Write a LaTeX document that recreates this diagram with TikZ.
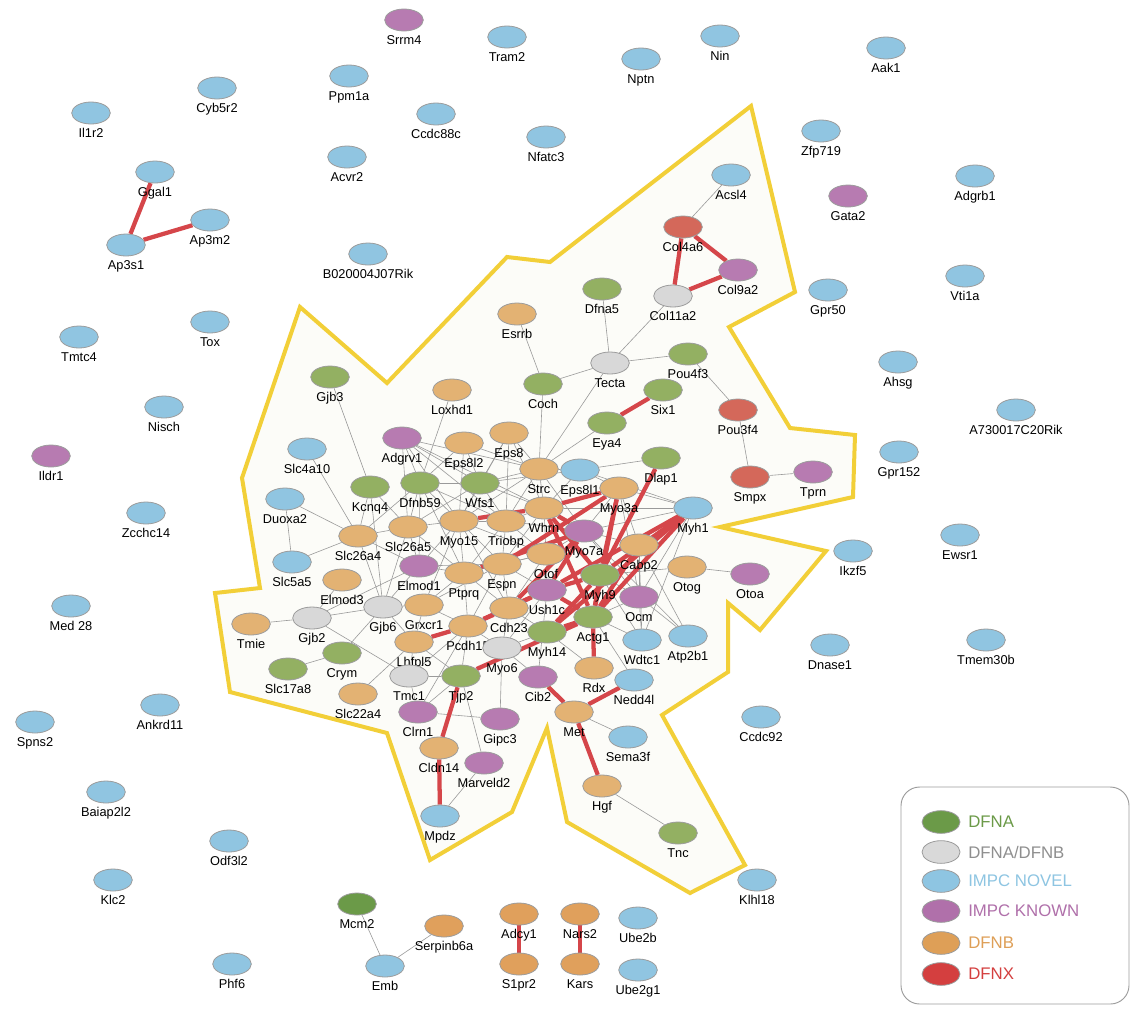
\documentclass[tikz,border=0pt]{standalone}
\usepackage{fontspec}
\setmainfont{Liberation Sans}
\usetikzlibrary{shapes.geometric}
\pgfdeclarelayer{bg}
\pgfdeclarelayer{edges}
\pgfsetlayers{bg,edges,main}
\definecolor{cA}{HTML}{93B062}
\definecolor{cAd}{HTML}{6B9A48}
\definecolor{cG}{HTML}{D8D8D8}
\definecolor{cN}{HTML}{90C5E1}
\definecolor{cK}{HTML}{B77BB1}
\definecolor{cB}{HTML}{E3B273}
\definecolor{cBd}{HTML}{E0A05C}
\definecolor{cX}{HTML}{D4685A}
\definecolor{nodeborder}{HTML}{9C9C9C}
\definecolor{edgegray}{HTML}{9A9A9A}
\definecolor{edgered}{HTML}{D5464A}
\definecolor{polyline}{HTML}{F2CF38}
\definecolor{polyfill}{HTML}{FCFCF8}
\definecolor{legA}{HTML}{6B9A48}
\definecolor{legG}{HTML}{8F8F8F}
\definecolor{legGf}{HTML}{D9D9D9}
\definecolor{legN}{HTML}{8EC5E2}
\definecolor{legK}{HTML}{B070AA}
\definecolor{legB}{HTML}{DE9F57}
\definecolor{legX}{HTML}{D43F3F}
\newcommand{\lblfont}{\fontsize{9.6}{11}\selectfont}
\newcommand{\legfont}{\fontsize{12.6}{14}\selectfont}
\tikzset{
  gnode/.style={ellipse, draw=nodeborder, line width=0.6pt, minimum width=29pt, minimum height=16.5pt, inner sep=0pt},
  gA/.style={gnode, fill=cA},
  gAd/.style={gnode, fill=cAd},
  gG/.style={gnode, fill=cG},
  gN/.style={gnode, fill=cN},
  gK/.style={gnode, fill=cK},
  gB/.style={gnode, fill=cB},
  gBd/.style={gnode, fill=cBd},
  gX/.style={gnode, fill=cX},
  lbl/.style={font=\lblfont, anchor=base, inner sep=0pt, text=black},
  ge/.style={draw=edgegray, line width=0.45pt},
  re/.style={draw=edgered, line width=3.2pt},
  legtxt/.style={font=\legfont, anchor=west, inner sep=0pt},
}
\newcommand{\gn}[4]{\node[#1] (#2) at (#3) {}; \node[lbl] (#2l) at ([yshift=-18.5pt]#2.center) {#4};}
\begin{document}
\begin{tikzpicture}[x=0.75pt,y=-0.75pt]
\path[use as bounding box] (0,0) rectangle (1131,1008);
\begin{pgfonlayer}{bg}
\fill[white] (0,0) rectangle (1131,1008);
\filldraw[fill=polyfill, draw=polyline, line width=3pt, line join=miter]
 (751,106) -- (795,292) -- (729,327) -- (790,428) -- (855,435) -- (853,497) -- (720,527) -- (826,551) -- (760,630) -- (728,603) -- (728,672) -- (662,715) -- (745,865) -- (690,893) -- (567,822) -- (547,728) -- (512,812) -- (430,860) -- (387,733) -- (230,692) -- (215,593) -- (260,588) -- (242,478) -- (300,307) -- (387,383) -- (507,257) -- (550,262) -- cycle;
\end{pgfonlayer}
% outer nodes
\gn{gK}{Srrm4}{404,20}{Srrm4}
\gn{gN}{Tram2}{507,37}{Tram2}
\gn{gN}{Nin}{720,36}{Nin}
\gn{gN}{Nptn}{641,59}{Nptn}
\gn{gN}{Aak1}{886,48}{Aak1}
\gn{gN}{Cyb5r2}{217,88}{Cyb5r2}
\gn{gN}{Ppm1a}{349,76}{Ppm1a}
\gn{gN}{Il1r2}{91,113}{Il1r2}
\gn{gN}{Ccdc88c}{436,114}{Ccdc88c}
\gn{gN}{Nfatc3}{546,137}{Nfatc3}
\gn{gN}{Zfp719}{821,131}{Zfp719}
\gn{gN}{Acvr2}{347,157}{Acvr2}
\gn{gN}{Ggal1}{155,172}{Ggal1}
\gn{gN}{Adgrb1}{975,176}{Adgrb1}
\gn{gK}{Gata2}{848,196}{Gata2}
\gn{gN}{Ap3m2}{210,220}{Ap3m2}
\gn{gN}{Ap3s1}{126,245}{Ap3s1}
\gn{gN}{B020004J07Rik}{368,254}{B020004J07Rik}
\gn{gN}{Vti1a}{965,276}{Vti1a}
\gn{gN}{Gpr50}{828,290}{Gpr50}
\gn{gN}{Tox}{210,322}{Tox}
\gn{gN}{Tmtc4}{79,337}{Tmtc4}
\gn{gN}{Ahsg}{898,362}{Ahsg}
\gn{gN}{Nisch}{164,407}{Nisch}
\gn{gN}{A730017C20Rik}{1016,410}{A730017C20Rik}
\gn{gN}{Gpr152}{899,452}{Gpr152}
\gn{gK}{Ildr1}{51,456}{Ildr1}
\gn{gN}{Zcchc14}{146,513}{Zcchc14}
\gn{gN}{Ewsr1}{960,535}{Ewsr1}
\gn{gN}{Ikzf5}{853,551}{Ikzf5}
\gn{gN}{Med28}{71,606}{Med 28}
\gn{gN}{Tmem30b}{986,640}{Tmem30b}
\gn{gN}{Dnase1}{830,645}{Dnase1}
\gn{gN}{Ankrd11}{160,705}{Ankrd11}
\gn{gN}{Ccdc92}{761,717}{Ccdc92}
\gn{gN}{Spns2}{35,722}{Spns2}
\gn{gN}{Baiap2l2}{106,792}{Baiap2l2}
\gn{gN}{Odf3l2}{229,841}{Odf3l2}
\gn{gN}{Klc2}{113,880}{Klc2}
\gn{gN}{Klhl18}{757,880}{Klhl18}
\gn{gAd}{Mcm2}{357,904}{Mcm2}
\gn{gBd}{Serpinb6a}{444,926}{Serpinb6a}
\gn{gBd}{Adcy1}{519,914}{Adcy1}
\gn{gBd}{Nars2}{580,914}{Nars2}
\gn{gN}{Ube2b}{638,918}{Ube2b}
\gn{gN}{Emb}{385,966}{Emb}
\gn{gN}{Phf6}{232,964}{Phf6}
\gn{gBd}{S1pr2}{519,964}{S1pr2}
\gn{gBd}{Kars}{580,964}{Kars}
\gn{gN}{Ube2g1}{638,970}{Ube2g1}
% inner nodes
\gn{gN}{Acsl4}{731,175}{Acsl4}
\gn{gX}{Col4a6}{683,227}{Col4a6}
\gn{gK}{Col9a2}{738,270}{Col9a2}
\gn{gG}{Col11a2}{673,296}{Col11a2}
\gn{gA}{Dfna5}{602,289}{Dfna5}
\gn{gB}{Esrrb}{517,314}{Esrrb}
\gn{gG}{Tecta}{610,363}{Tecta}
\gn{gA}{Pou4f3}{688,354}{Pou4f3}
\gn{gA}{Coch}{543,384}{Coch}
\gn{gA}{Six1}{663,390}{Six1}
\gn{gX}{Pou3f4}{738,410}{Pou3f4}
\gn{gA}{Eya4}{607,423}{Eya4}
\gn{gA}{Gjb3}{330,377}{Gjb3}
\gn{gB}{Loxhd1}{452,390}{Loxhd1}
\gn{gK}{Adgrv1}{402,438}{Adgrv1}
\gn{gB}{Eps8l2}{464,443}{Eps8l2}
\gn{gB}{Eps8}{509,433}{Eps8}
\gn{gN}{Slc4a10}{307,449}{Slc4a10}
\gn{gB}{Strc}{539,469}{Strc}
\gn{gN}{Eps8l1}{580,470}{Eps8l1}
\gn{gA}{Dlap1}{661,458}{Dlap1}
\gn{gX}{Smpx}{750,477}{Smpx}
\gn{gK}{Tprn}{813,472}{Tprn}
\gn{gA}{Kcnq4}{370,487}{Kcnq4}
\gn{gA}{Dfnb59}{420,483}{Dfnb59}
\gn{gA}{Wfs1}{480,483}{Wfs1}
\gn{gB}{Myo3a}{619,488}{Myo3a}
\gn{gN}{Duoxa2}{285,499}{Duoxa2}
\gn{gB}{Whrn}{544,508}{Whrn}
\gn{gN}{Myh1}{693,508}{Myh1}
\gn{gB}{Slc26a4}{358,536}{Slc26a4}
\gn{gB}{Slc26a5}{408,527}{Slc26a5}
\gn{gB}{Myo15}{459,521}{Myo15}
\gn{gB}{Triobp}{506,521}{Triobp}
\gn{gK}{Myo7a}{584,531}{Myo7a}
\gn{gB}{Cabp2}{639,545}{Cabp2}
\gn{gN}{Slc5a5}{292,562}{Slc5a5}
\gn{gB}{Otof}{546,554}{Otof}
\gn{gB}{Espn}{502,564}{Espn}
\gn{gK}{Elmod1}{419,566}{Elmod1}
\gn{gB}{Ptprq}{464,573}{Ptprq}
\gn{gB}{Elmod3}{342,580}{Elmod3}
\gn{gB}{Otog}{687,567}{Otog}
\gn{gK}{Otoa}{750,574}{Otoa}
\gn{gA}{Myh9}{600,575}{Myh9}
\gn{gK}{Ush1c}{547,590}{Ush1c}
\gn{gK}{Ocm}{639,597}{Ocm}
\gn{gG}{Gjb2}{312,618}{Gjb2}
\gn{gG}{Gjb6}{383,607}{Gjb6}
\gn{gB}{Grxcr1}{424,605}{Grxcr1}
\gn{gB}{Cdh23}{509,608}{Cdh23}
\gn{gA}{Actg1}{593,617}{Actg1}
\gn{gB}{Tmie}{251,624}{Tmie}
\gn{gB}{Pcdh15}{468,626}{Pcdh15}
\gn{gA}{Myh14}{547,632}{Myh14}
\gn{gN}{Wdtc1}{642,640}{Wdtc1}
\gn{gN}{Atp2b1}{688,636}{Atp2b1}
\gn{gB}{Lhfpl5}{414,642}{Lhfpl5}
\gn{gA}{Crym}{342,653}{Crym}
\gn{gG}{Myo6}{502,648}{Myo6}
\gn{gA}{Slc17a8}{288,669}{Slc17a8}
\gn{gG}{Tmc1}{409,676}{Tmc1}
\gn{gA}{Tjp2}{461,676}{Tjp2}
\gn{gK}{Cib2}{538,677}{Cib2}
\gn{gB}{Rdx}{594,668}{Rdx}
\gn{gN}{Nedd4l}{634,680}{Nedd4l}
\gn{gB}{Slc22a4}{358,694}{Slc22a4}
\gn{gK}{Clrn1}{418,712}{Clrn1}
\gn{gK}{Gipc3}{500,719}{Gipc3}
\gn{gB}{Met}{574,712}{Met}
\gn{gB}{Cldn14}{439,748}{Cldn14}
\gn{gN}{Sema3f}{628,737}{Sema3f}
\gn{gK}{Marveld2}{484,763}{Marveld2}
\gn{gB}{Hgf}{602,786}{Hgf}
\gn{gN}{Mpdz}{440,816}{Mpdz}
\gn{gA}{Tnc}{678,833}{Tnc}
% edges
\begin{pgfonlayer}{edges}
\foreach \a/\b in {Acsl4/Col4a6, Col11a2/Tecta, Dfna5/Tecta, Tecta/Pou4f3, Tecta/Coch, Tecta/Strc, Esrrb/Coch, Coch/Strc, Pou4f3/Pou3f4, Pou3f4/Smpx, Smpx/Tprn, Eya4/Strc, Dlap1/Eps8l1, Gjb3/Kcnq4, Slc4a10/Slc26a4, Duoxa2/Slc26a4, Duoxa2/Slc5a5, Slc5a5/Slc26a4, Kcnq4/Slc26a4, Kcnq4/Slc26a5, Kcnq4/Gjb6, Slc26a4/Slc26a5, Slc26a4/Dfnb59, Slc26a4/Gjb6, Slc26a4/Elmod1, Loxhd1/Dfnb59, Adgrv1/Dfnb59, Adgrv1/Wfs1, Adgrv1/Myo15, Adgrv1/Triobp, Adgrv1/Whrn, Adgrv1/Strc, Adgrv1/Slc26a5, Dfnb59/Wfs1, Dfnb59/Myo15, Dfnb59/Slc26a5, Dfnb59/Triobp, Dfnb59/Elmod1, Dfnb59/Ptprq, Eps8l2/Myo15, Eps8l2/Wfs1, Eps8l2/Strc, Eps8l2/Dfnb59, Eps8/Wfs1, Eps8/Strc, Eps8/Myo15, Eps8/Whrn, Eps8/Triobp, Wfs1/Strc, Wfs1/Eps8l1, Wfs1/Myo15, Wfs1/Triobp, Wfs1/Whrn, Wfs1/Slc26a5, Strc/Myo15, Strc/Triobp, Strc/Whrn, Strc/Myo7a, Strc/Eps8l1, Eps8l1/Whrn, Eps8l1/Myh1, Myo15/Triobp, Myo15/Slc26a5, Myo15/Espn, Myo15/Ptprq, Myo15/Elmod1, Myo15/Grxcr1, Myo15/Otof, Myo15/Cdh23, Triobp/Espn, Triobp/Otof, Triobp/Ptprq, Triobp/Myo7a, Triobp/Whrn, Whrn/Myh1, Whrn/Otof, Whrn/Espn, Myo3a/Myh1, Myo3a/Myo7a, Myo3a/Cabp2, Myo3a/Ocm, Myo3a/Eps8l1, Myo7a/Myh1, Myo7a/Otof, Myo7a/Cabp2, Myo7a/Ocm, Myo7a/Atp2b1, Cabp2/Ocm, Cabp2/Atp2b1, Cabp2/Wdtc1, Cabp2/Myh9, Myh1/Ocm, Myh1/Wdtc1, Myh9/Otog, Myh9/Ocm, Myh9/Wdtc1, Actg1/Ocm, Actg1/Wdtc1, Actg1/Nedd4l, Otog/Otoa, Ocm/Wdtc1, Ocm/Atp2b1, Slc26a5/Elmod1, Slc26a5/Ptprq, Slc26a5/Gjb6, Elmod1/Gjb6, Elmod1/Gjb2, Elmod1/Ptprq, Elmod1/Espn, Elmod3/Gjb2, Gjb2/Tmie, Gjb2/Gjb6, Gjb2/Tmc1, Gjb6/Crym, Gjb6/Grxcr1, Gjb6/Lhfpl5, Crym/Slc17a8, Grxcr1/Ptprq, Grxcr1/Pcdh15, Grxcr1/Espn, Grxcr1/Lhfpl5, Ptprq/Espn, Ptprq/Pcdh15, Ptprq/Cdh23, Ptprq/Otof, Espn/Otof, Espn/Cdh23, Espn/Pcdh15, Espn/Ush1c, Otof/Ush1c, Otof/Cdh23, Cdh23/Myo6, Cdh23/Myh14, Pcdh15/Myo6, Pcdh15/Tmc1, Pcdh15/Tjp2, Pcdh15/Clrn1, Lhfpl5/Tmc1, Lhfpl5/Tjp2, Tmc1/Clrn1, Tmc1/Tjp2, Tjp2/Clrn1, Myo6/Gipc3, Myo6/Myh14, Myo6/Ush1c, Myo6/Cib2, Ush1c/Cib2, Myh14/Rdx, Tjp2/Marveld2, Clrn1/Gipc3, Mpdz/Marveld2, Slc22a4/Lhfpl5, Met/Sema3f, Hgf/Tnc, Mcm2/Emb, Emb/Serpinb6a}
  \draw[ge] (\a) -- (\b);
\foreach \a/\b in {Ggal1/Ap3s1, Ap3s1/Ap3m2, Col4a6/Col11a2, Col4a6/Col9a2, Col11a2/Col9a2, Six1/Eya4, Dlap1/Myh9, Myo15/Whrn, Whrn/Myo3a, Myo3a/Espn, Myo3a/Myh9, Myo3a/Actg1, Myh1/Myh9, Myh1/Actg1, Myh1/Myh14, Myh1/Ush1c, Cabp2/Actg1, Myh9/Actg1, Myh9/Ush1c, Myh9/Myh14, Actg1/Myh14, Actg1/Ush1c, Actg1/Rdx, Whrn/Actg1, Whrn/Myh9, Tjp2/Actg1, Tjp2/Cldn14, Cldn14/Mpdz, Cib2/Met, Met/Nedd4l, Met/Hgf, Adcy1/S1pr2, Nars2/Kars, Lhfpl5/Pcdh15, Pcdh15/Cdh23, Pcdh15/Ush1c, Cdh23/Ush1c, Cdh23/Myo7a, Ush1c/Myo7a, Myo7a/Whrn, Ptprq/Myo7a}
  \draw[re] (\a) -- (\b);
\end{pgfonlayer}
% legend
\draw[draw=nodeborder, line width=0.7pt, rounded corners=14pt] (901,787) rectangle (1129,1004);
\node[gnode, fill=legA, minimum width=28.5pt, minimum height=17pt] (lgA) at (941,822) {};
\node[legtxt, text=legA] (lgAt) at (968,822) {DFNA};
\node[gnode, fill=legGf, minimum width=28.5pt, minimum height=17pt] (lgG) at (941,852) {};
\node[legtxt, text=legG] (lgGt) at (968,852) {DFNA/DFNB};
\node[gnode, fill=legN, minimum width=28.5pt, minimum height=17pt] (lgN) at (941,881) {};
\node[legtxt, text=legN] (lgNt) at (968,881) {IMPC NOVEL};
\node[gnode, fill=legK, minimum width=28.5pt, minimum height=17pt] (lgK) at (941,911) {};
\node[legtxt, text=legK] (lgKt) at (968,911) {IMPC KNOWN};
\node[gnode, fill=legB, minimum width=28.5pt, minimum height=17pt] (lgB) at (941,943) {};
\node[legtxt, text=legB] (lgBt) at (968,943) {DFNB};
\node[gnode, fill=legX, minimum width=28.5pt, minimum height=17pt] (lgX) at (941,974) {};
\node[legtxt, text=legX] (lgXt) at (968,974) {DFNX};
\end{tikzpicture}
\end{document}
